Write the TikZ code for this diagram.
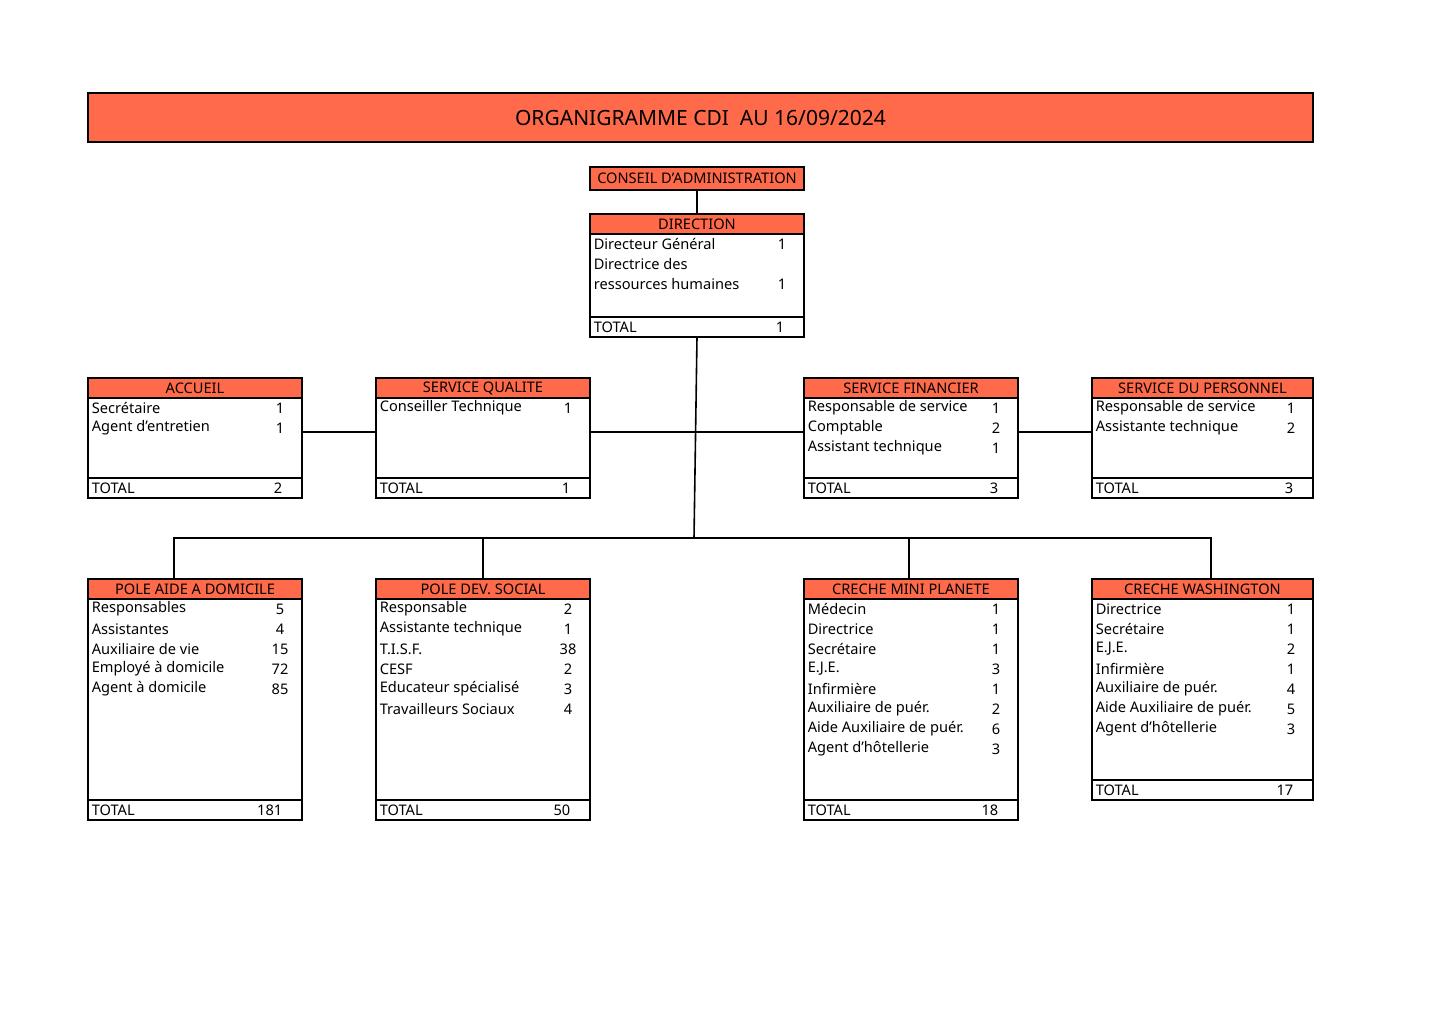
\documentclass[tikz,border=0pt]{standalone}
\usepackage{fontspec}
\setmainfont{Noto Sans}
\definecolor{hd}{HTML}{FF6A4A}
\newcommand\obox[9]{%
 \draw[fill=hd] (#2,#4) rectangle (#3,#4+20);
 \node[font=\fontsize{7.3}{8}\selectfont\bfseries] (#1-h) at ({(#2+#3)/2},#4+10.5) {#7};
 \draw (#2,#4) rectangle (#3,#6);
 \draw (#2,#5)--(#3,#5);
 \node[anchor=west,font=\fontsize{7.3}{8}\selectfont\bfseries] (#1-tl) at (#2,{(#5+#6)/2}) {TOTAL};
 \node[anchor=east,font=\fontsize{7.3}{8}\selectfont\bfseries] (#1-tn) at (#3-16,{(#5+#6)/2}) {#9};
 \foreach \t/\n [count=\i] in {#8} {
   \node[anchor=west] at (#2,#4+30+20*\i-20) {\t};
   \node at (#3-22,#4+30+20*\i-20) {\n};
 }
 \coordinate (#1-t) at ({(#2+#3)/2},#4);
 \coordinate (#1-b) at ({(#2+#3)/2},#6);
 \coordinate (#1-l) at (#2,#4+54);
 \coordinate (#1-r) at (#3,#4+54);
}
\begin{document}
\begin{tikzpicture}[x=0.5pt,y=-0.5pt,line width=0.8pt,every node/.style={inner sep=1.5pt,font=\fontsize{7.3}{8}\selectfont}]
\useasboundingbox (0,0) rectangle (1440,1018);
\node[draw,fill=hd,minimum width=612.5pt,minimum height=24.5pt,font=\fontsize{10.5}{12}\selectfont\bfseries] (title) at (700.5,117.5) {ORGANIGRAMME CDI\ \ AU 16/09/2024};
\node[draw,fill=hd,minimum width=107pt,minimum height=11.5pt,inner sep=0pt,font=\fontsize{7.3}{8}\selectfont\bfseries] (ca) at (697,178.5) {CONSEIL D'ADMINISTRATION};
\obox{dir}{590}{804}{214}{317}{337}{DIRECTION}{Directeur Général/1,Directrice des/,ressources humaines/1}{1}
\obox{acc}{88}{302}{378}{478}{498}{ACCUEIL}{Secrétaire/1,Agent d'entretien/1}{2}
\obox{qua}{376}{590}{378}{478}{498}{SERVICE QUALITE}{Conseiller Technique/1}{1}
\obox{fin}{804}{1018}{378}{478}{498}{SERVICE FINANCIER}{Responsable de service/1,Comptable/2,Assistant technique/1}{3}
\obox{per}{1092}{1313}{378}{478}{498}{SERVICE DU PERSONNEL}{Responsable de service/1,Assistante technique/2}{3}
\obox{pad}{88}{302}{579}{800}{820}{POLE AIDE A DOMICILE}{Responsables/5,Assistantes/4,Auxiliaire de vie/15,Employé à domicile/72,Agent à domicile/85}{181}
\obox{pds}{376}{590}{579}{800}{820}{POLE DEV. SOCIAL}{Responsable/2,Assistante technique/1,T.I.S.F./38,CESF/2,Educateur spécialisé/3,Travailleurs Sociaux/4}{50}
\obox{cmp}{804}{1018}{579}{800}{820}{CRECHE MINI PLANETE}{Médecin/1,Directrice/1,Secrétaire/1,E.J.E./3,Infirmière/1,Auxiliaire de puér./2,Aide Auxiliaire de puér./6,Agent d'hôtellerie/3}{18}
\obox{cw}{1092}{1313}{579}{780}{800}{CRECHE WASHINGTON}{Directrice/1,Secrétaire/1,E.J.E./2,Infirmière/1,Auxiliaire de puér./4,Aide Auxiliaire de puér./5,Agent d'hôtellerie/3}{17}
\coordinate (bus) at (694,538);
\draw (ca.south) -- (dir-t);
\draw (dir-b) -- (bus);
\draw (acc-r) -- (qua-l);
\draw (qua-r) -- (fin-l);
\draw (fin-r) -- (per-l);
\draw (174,579) |- (1211,538) -- (1211,579);
\draw (pds-t) -- (483,538);
\draw (909,579) -- (909,538);
\end{tikzpicture}
\end{document}
